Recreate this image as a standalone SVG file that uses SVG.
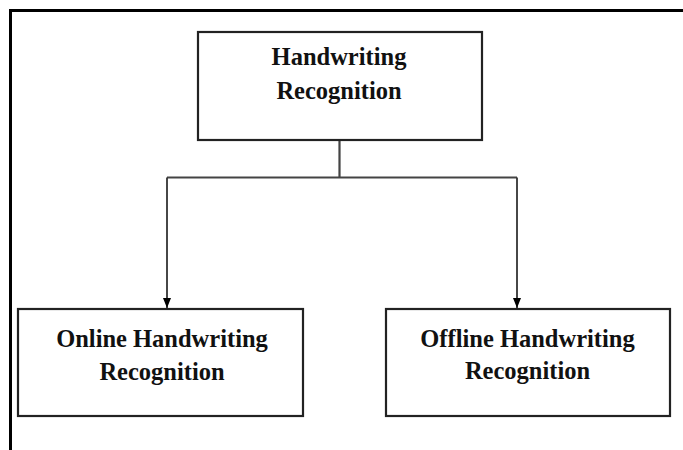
<svg xmlns="http://www.w3.org/2000/svg" width="683" height="450" viewBox="0 0 683 450">
<style>
.frame{fill:none;stroke:#000;stroke-width:3}
.box{fill:#fff;stroke:#222;stroke-width:2.2}
.conn{fill:none;stroke:#444;stroke-width:2.2}
.drop{fill:none;stroke:#333;stroke-width:1.8}
.lbl{font-family:"Liberation Serif","Times New Roman",serif;font-weight:bold;font-size:24.5px;fill:#111;text-anchor:middle}
</style>
<defs>
<marker id="arrDown" markerWidth="8" markerHeight="10" refX="4" refY="10" orient="0" markerUnits="userSpaceOnUse" viewBox="0 0 8 10">
<path d="M0,0 L8,0 L4,10 Z" fill="#000"/>
</marker>
</defs>
<rect width="683" height="450" fill="#fff"/>
<g id="frame">
<path class="frame" d="M10.5,450 L10.5,10.5 L683,10.5"/>
</g>
<g id="connectors">
<path class="conn" d="M339.5,141 L339.5,177.5"/>
<path class="conn" d="M167,177.5 L517,177.5"/>
<path class="drop" d="M167,177.5 L167,308" marker-end="url(#arrDown)"/>
<path class="drop" d="M517,177.5 L517,308" marker-end="url(#arrDown)"/>
</g>
<g id="node-root">
<rect class="box" x="198" y="32" width="284" height="108"/>
<text class="lbl" x="339" y="65">Handwriting</text>
<text class="lbl" x="339" y="99">Recognition</text>
</g>
<g id="node-online">
<rect class="box" x="18" y="309" width="285" height="107"/>
<text class="lbl" x="162" y="347">Online Handwriting</text>
<text class="lbl" x="162" y="380">Recognition</text>
</g>
<g id="node-offline">
<rect class="box" x="386" y="309" width="284" height="107"/>
<text class="lbl" x="527.5" y="347">Offline Handwriting</text>
<text class="lbl" x="527.5" y="379">Recognition</text>
</g>
</svg>
